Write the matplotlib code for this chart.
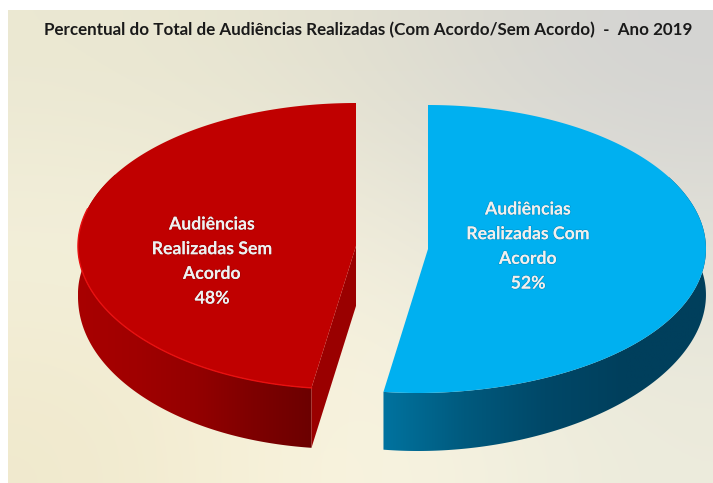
import numpy as np
import matplotlib
matplotlib.use("Agg")
import matplotlib.pyplot as plt
from matplotlib.colors import LinearSegmentedColormap
from matplotlib.patches import Polygon
import matplotlib.patheffects as pe

title = "Percentual do Total de Audiências Realizadas (Com Acordo/Sem Acordo)  -  Ano 2019"
categories = ["Audiências\nRealizadas Com\nAcordo", "Audiências\nRealizadas Sem\nAcordo"]
shares = [52, 48]

plt.rcParams["font.family"] = ["Lato", "DejaVu Sans"]
W, H = 713, 483
fig = plt.figure(figsize=(W / 100, H / 100), dpi=100, facecolor="white")
ax = fig.add_axes([0, 0, 1, 1])
ax.axis("off")


def hex_rgb(c):
    return matplotlib.colors.to_rgb(c)


# backdrop gradient of the chart area
bg = np.array([[hex_rgb(c) for c in row] for row in [
    ["#ebe8d2", "#e2e0d0", "#d3d3d2"],
    ["#f5f1dc", "#f3efdd", "#e2e1d8"],
    ["#f0e9cd", "#fcf7e2", "#ecebdc"],
]])
ax.imshow(bg, extent=(8, W, H, 10), interpolation="bicubic", aspect="auto", zorder=0)

RX = 278


def rim(c, deg):
    cx, cy, ry = c
    a = np.radians(deg)
    u, v = np.sin(a), np.cos(a)
    # small lean of the front edge, the 3D view is not quite square on
    return cx + RX * u - 10 * ((1 - v) / 2) ** 8, cy - ry * v


def gradient_fill(poly, cmap, zorder):
    patch = Polygon(poly, closed=True, fc="none", ec="none", zorder=zorder)
    ax.add_patch(patch)
    (x0, y0), (x1, y1) = poly.min(axis=0), poly.max(axis=0)
    im = ax.imshow(np.linspace(0, 1, 256).reshape(1, -1), cmap=cmap, extent=(x0, x1, y1, y0),
                   aspect="auto", zorder=zorder, interpolation="bilinear")
    im.set_clip_path(patch)


def side(c, a0, a1, depth, cmap):
    t = np.linspace(a0, a1, 200)
    x, y = rim(c, t)
    d = depth(np.cos(np.radians(t)))
    poly = np.column_stack([np.r_[x, x[::-1]], np.r_[y, (y + d)[::-1]]])
    gradient_fill(poly, cmap, 2)


def top(c, a0, a1, color):
    t = np.linspace(a0, a1, 300)
    x, y = rim(c, t)
    ax.add_patch(Polygon(np.column_stack([np.r_[c[0], x], np.r_[c[1], y]]), closed=True,
                         fc=color, ec="none", zorder=4))


split = 360 * shares[0] / sum(shares)
blue_c = (428, 249, 144)
red_c = (356, 246, 143)


def blue_depth(v):
    return 46 + 12 * v ** 2


def red_depth(v):
    return 48 + 12 * np.sqrt(np.clip(-v, 0, None))


blue_side = LinearSegmentedColormap.from_list("b", ["#00739f", "#005a7e", "#004868", "#003f5c", "#003f5c"])
red_side = LinearSegmentedColormap.from_list("r", ["#a80000", "#a00000", "#940000", "#7e0000", "#6c0000"])

side(blue_c, 60, split, blue_depth, blue_side)
side(red_c, split, 300, red_depth, red_side)

# cut face of the red slice
ex, ey = rim(red_c, split)
cut = red_depth(np.cos(np.radians(split)))
ax.add_patch(Polygon([red_c[:2], (ex, ey), (ex, ey + cut), (red_c[0], red_c[1] + cut)],
                     closed=True, fc="#9a0000", ec="none", zorder=3))

top(blue_c, 0, split, "#00b0f0")
top(red_c, split, 360, "#c00000")

# lighter edge along the red rim
t = np.linspace(split, 285, 120)
rx_, ry_ = rim(red_c, t)
ax.plot(rx_, ry_, color="#e81010", lw=1.0, zorder=5)

ax.text(368.5, 30, title, ha="center", va="center", fontsize=12.25, fontweight="bold", color="#1a1a1a", zorder=6)

halo = [pe.withStroke(linewidth=1.0, foreground=(0, 0, 0, 0.15))]
line_h = 24.7
for name, val, (lx, ly) in zip(categories, shares, [(528, 209), (212, 224)]):
    for i, line in enumerate(name.split("\n") + [f"{val}%"]):
        ax.text(lx, ly + i * line_h, line, ha="center", va="center", fontsize=12.7,
                fontweight="bold", color="#f0f0f0", path_effects=halo, zorder=6)

ax.set_xlim(0, W)
ax.set_ylim(H, 0)
fig.savefig("out.png", dpi=100)
